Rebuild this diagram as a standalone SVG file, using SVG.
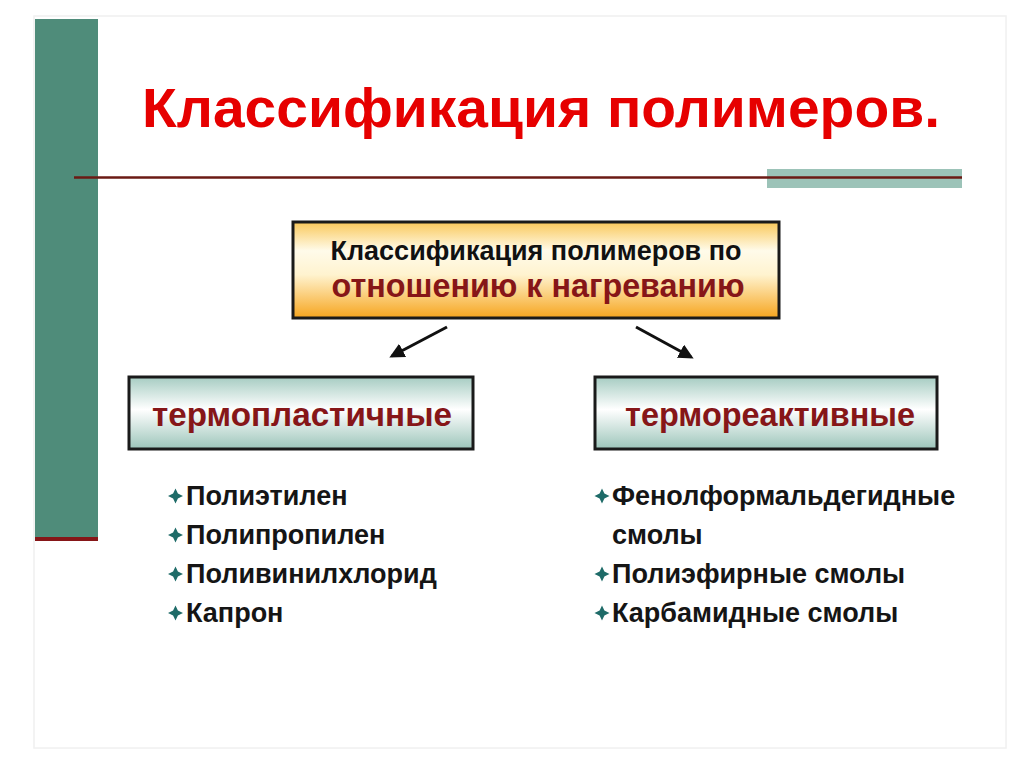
<svg xmlns="http://www.w3.org/2000/svg" width="1024" height="767" viewBox="0 0 1024 767">
<defs>
<linearGradient id="gOrange" x1="0" y1="0" x2="0" y2="1">
<stop offset="0" stop-color="#F9C85A"/>
<stop offset="0.3" stop-color="#FFFBEA"/>
<stop offset="0.55" stop-color="#FFF3CF"/>
<stop offset="1" stop-color="#F6A51E"/>
</linearGradient>
<linearGradient id="gTeal" x1="0" y1="0" x2="0" y2="1">
<stop offset="0" stop-color="#A6CCC2"/>
<stop offset="0.45" stop-color="#FFFFFF"/>
<stop offset="1" stop-color="#9CC5BA"/>
</linearGradient>
<marker id="arr" viewBox="0 0 10 10" refX="8" refY="5" markerWidth="5" markerHeight="5" orient="auto">
<path d="M0,0 L10,5 L0,10 z" fill="#111"/>
</marker>
<path id="star" d="M0,-7.5 L2.4,-2.4 L7.5,0 L2.4,2.4 L0,7.5 L-2.4,2.4 L-7.5,0 L-2.4,-2.4 z"/>
</defs>
<style>
.lst{font-family:"Liberation Sans",Arial,sans-serif;font-weight:bold;font-size:27px;fill:#151515}
.cat{font-family:"Liberation Sans",Arial,sans-serif;font-weight:bold;font-size:34px;fill:#861618;text-anchor:middle}
.bul{fill:#1E6B68}
.box{stroke:#1a1a1a;stroke-width:3}
</style>
<rect x="0" y="0" width="1024" height="767" fill="#FFFFFF"/>
<rect x="34" y="16" width="972" height="732" fill="none" stroke="#F0F0F0" stroke-width="1.5"/>
<rect x="35" y="19" width="63" height="518" fill="#4F8C7A"/>
<rect x="35" y="537" width="63" height="4" fill="#861618"/>
<rect x="767" y="169" width="195" height="19" fill="#9CC3B8"/>
<line x1="74" y1="177.5" x2="962" y2="177.5" stroke="#6B1A14" stroke-width="2.5"/>
<g id="title">
<text x="142" y="127" font-family="'Liberation Sans',Arial,sans-serif" font-weight="bold" font-size="56" fill="#E60000" textLength="798" lengthAdjust="spacingAndGlyphs">Классификация полимеров.</text>
</g>
<g id="root">
<rect class="box" x="293" y="222" width="486" height="96" fill="url(#gOrange)"/>
<text x="536" y="260" font-family="'Liberation Sans',Arial,sans-serif" font-weight="bold" font-size="27" fill="#111" text-anchor="middle" textLength="411" lengthAdjust="spacingAndGlyphs">Классификация полимеров по</text>
<text x="538" y="297" font-family="'Liberation Sans',Arial,sans-serif" font-weight="bold" font-size="33" fill="#861618" text-anchor="middle" textLength="413" lengthAdjust="spacingAndGlyphs">отношению к нагреванию</text>
</g>
<g id="connectors" stroke="#111" stroke-width="3" fill="none">
<line x1="447" y1="327" x2="392" y2="356" marker-end="url(#arr)"/>
<line x1="636" y1="327" x2="691" y2="357" marker-end="url(#arr)"/>
</g>
<g id="thermoplastic">
<rect class="box" x="129" y="377" width="344" height="72" fill="url(#gTeal)"/>
<text class="cat" x="302" y="426" textLength="300" lengthAdjust="spacingAndGlyphs">термопластичные</text>
</g>
<g id="thermoset">
<rect class="box" x="595" y="377" width="342" height="72" fill="url(#gTeal)"/>
<text class="cat" x="770" y="426" textLength="290" lengthAdjust="spacingAndGlyphs">термореактивные</text>
</g>
<g id="list-left">
<use href="#star" class="bul" x="175.5" y="496"/>
<text class="lst" x="186" y="505">Полиэтилен</text>
<use href="#star" class="bul" x="175.5" y="535"/>
<text class="lst" x="186" y="544">Полипропилен</text>
<use href="#star" class="bul" x="175.5" y="574"/>
<text class="lst" x="186" y="583">Поливинилхлорид</text>
<use href="#star" class="bul" x="175.5" y="613"/>
<text class="lst" x="186" y="622">Капрон</text>
</g>
<g id="list-right">
<use href="#star" class="bul" x="602" y="496"/>
<text class="lst" x="612" y="505">Фенолформальдегидные</text>
<text class="lst" x="612" y="544">смолы</text>
<use href="#star" class="bul" x="602" y="574"/>
<text class="lst" x="612" y="583">Полиэфирные смолы</text>
<use href="#star" class="bul" x="602" y="613"/>
<text class="lst" x="612" y="622">Карбамидные смолы</text>
</g>
</svg>
